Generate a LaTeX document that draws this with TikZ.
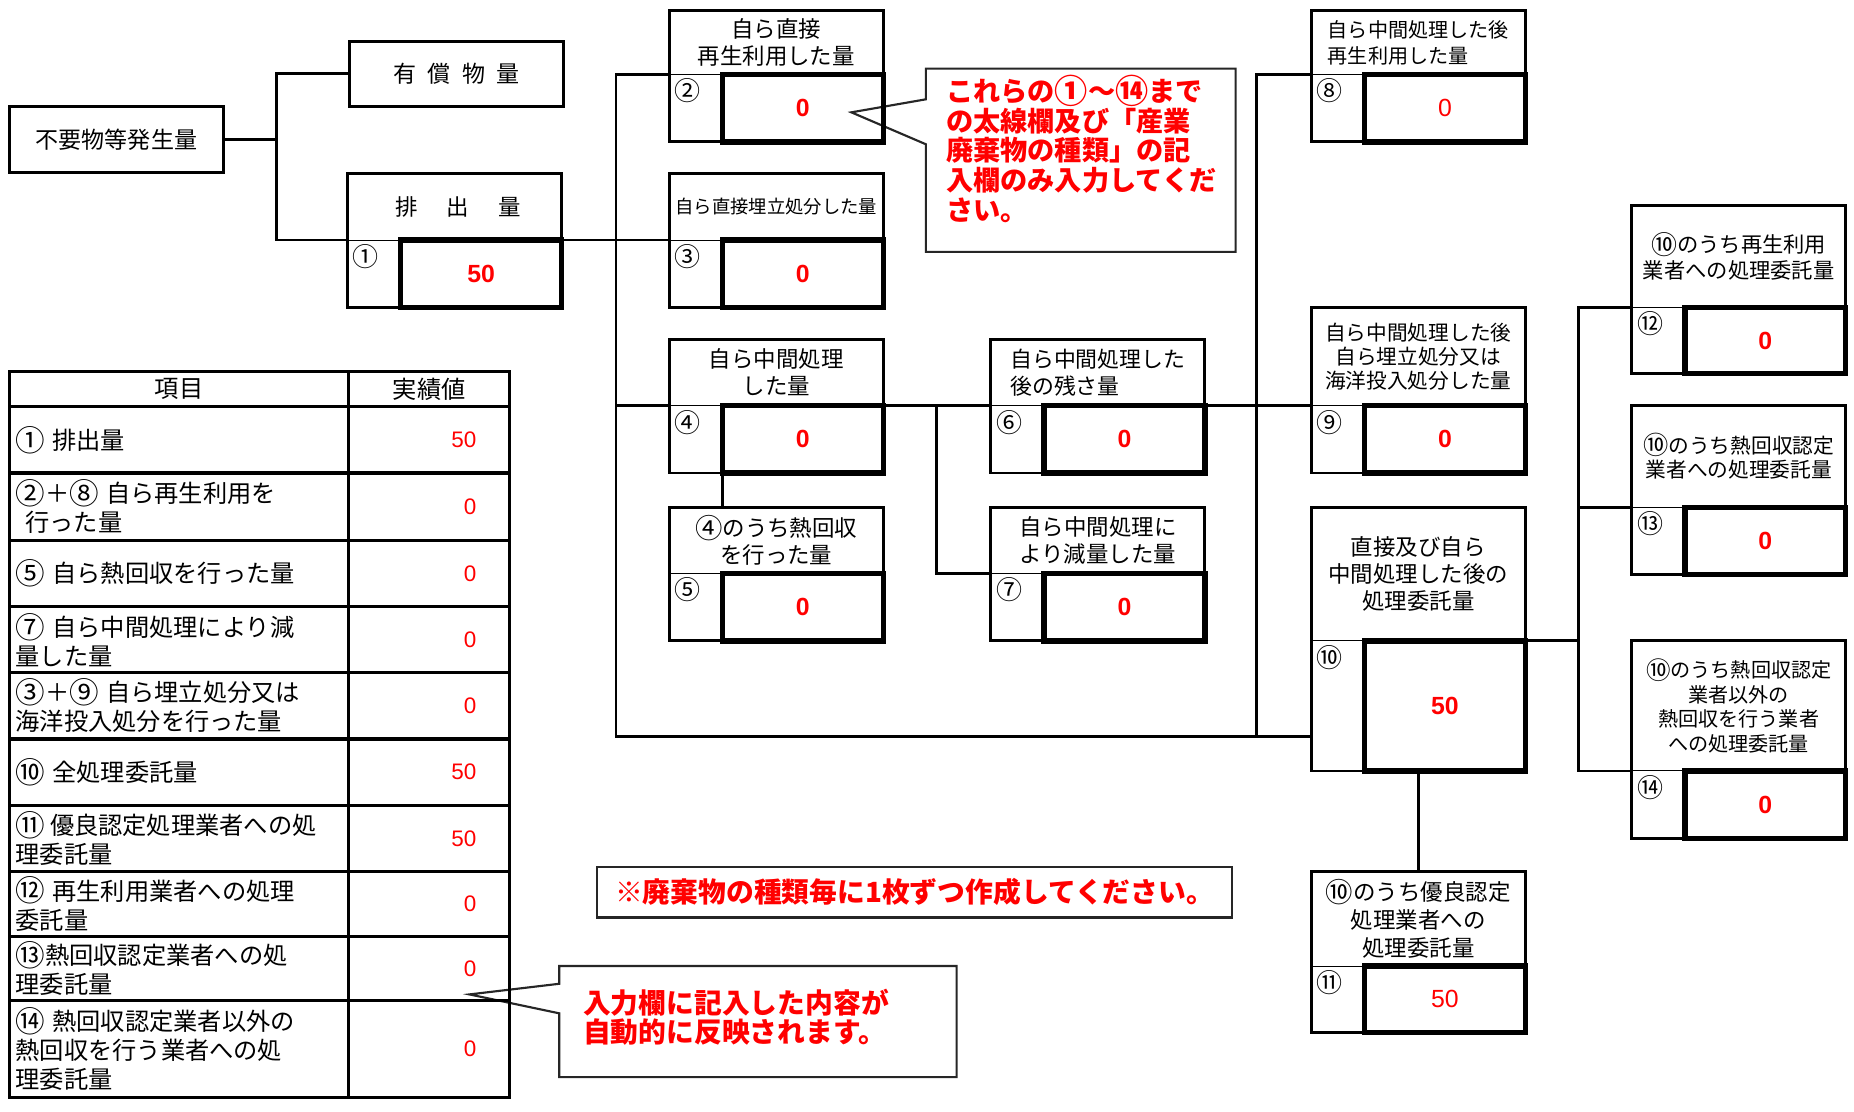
\documentclass[tikz,border=0pt]{standalone}
\usepackage{fontspec}
\usepackage{graphicx}
\setmainfont{Noto Sans CJK JP}
\newfontfamily\numf{Liberation Sans}
\usetikzlibrary{calc}
\newcommand\cc[1]{\raisebox{-0.08em}{\scalebox{1.22}{#1}}}
\newcommand\entrybox[9]{%
  \node[hdr,#7,minimum height={(#4-#3)*1pt}] (#1h) at ({#2+90.5},{(#3+#4)/2}) {#8};
  \draw[boxline] (#1h.south west) -- (#1h.north west) -- (#1h.north east) -- (#1h.south east);
  \node[numcell,minimum height={(#5-#4)*1pt}] (#1n) at ({#2+22.5},{(#4+#5)/2}) {};
  \draw[thinline] (#1n.north west) -- (#1n.north east);
  \draw[boxline] (#1n.north west) -- (#1n.south west) -- (#1n.south east);
  \node[numlabel] (#1l) at ({#2+15.5},{#4+14}) {#6};
  \node[valbox,minimum height={(#5-#4)*1pt}] (#1v) at ({#2+113},{(#4+#5)/2}) {#9};
}
\tikzset{
  conn/.style={line width=2.4pt},
  boxline/.style={line width=2.4pt},
  thinline/.style={line width=0.9pt},
  hdr/.style={inner sep=0pt, outer sep=0pt, minimum width=181pt, align=center, font=\fontsize{19}{23}\selectfont},
  numcell/.style={inner sep=0pt, outer sep=0pt, minimum width=45pt},
  numlabel/.style={inner sep=0pt, font=\fontsize{22}{22}\selectfont},
  valbox/.style={draw, line width=4.5pt, inner sep=0pt, outer sep=0pt, minimum width=136pt, text=red, font=\numf\bfseries\fontsize{21}{21}\selectfont},
  plainbox/.style={draw, line width=2.4pt, inner sep=0pt, outer sep=0pt, font=\fontsize{19.5}{23}\selectfont},
  tabline/.style={line width=2.6pt},
  tabtext/.style={anchor=west, align=left, inner sep=0pt, font=\fontsize{20.5}{24.5}\selectfont},
  tabhead/.style={inner sep=0pt, font=\fontsize{20.5}{24.5}\selectfont},
  tabval/.style={anchor=east, inner sep=0pt, text=red, font=\numf\fontsize{19}{19}\selectfont},
  callout/.style={draw=black!85, line width=1.8pt, fill=white, line join=miter},
  calloutbox/.style={inner sep=0pt, outer sep=0pt},
  redbold/.style={text=red, font=\bfseries\fontsize{23}{25}\selectfont, align=left, inner sep=0pt},
  notebox/.style={draw=black!85, line width=1.8pt, inner sep=0pt, text=red, font=\bfseries\fontsize{23.5}{23.5}\selectfont},
}
\begin{document}
\begin{tikzpicture}[x=1pt,y=-1pt]
\useasboundingbox (0,0) rectangle (1568,940);

% callouts (drawn first)
\node[calloutbox, minimum width=262pt, minimum height=155pt] (c1) at (914,135.5) {};
\coordinate (c1tip) at (720,95);
\draw[callout] (c1.north west) -- (c1.north east) -- (c1.south east) -- (c1.south west)
  -- ($(c1.north west)+(0,64)$) -- (c1tip) -- ($(c1.north west)+(0,26)$) -- cycle;
\node[redbold, anchor=west] (c1t) at (800,126) {これらの\cc{①}～\cc{⑭}まで\\の太線欄及び「産業\\廃棄物の種類」の記\\入欄のみ入力してくだ\\さい。};

\node[calloutbox, minimum width=336pt, minimum height=94pt] (c2) at (641,864) {};
\coordinate (c2tip) at (397,841);
\draw[callout] (c2.north west) -- (c2.north east) -- (c2.south east) -- (c2.south west)
  -- ($(c2.north west)+(0,40)$) -- (c2tip) -- ($(c2.north west)+(0,15)$) -- cycle;
\node[redbold, anchor=west, font=\bfseries\fontsize{23.5}{25}\selectfont] (c2t) at (493,860.5) {入力欄に記入した内容が\\自動的に反映されます。};

\node[notebox, minimum width=537pt, minimum height=43pt] (note) at (773.5,754.5) {※廃棄物の種類毎に1枚ずつ作成してください。};

% left boxes
\node[plainbox, minimum width=181pt, minimum height=56pt] (fuyo) at (98.5,118) {不要物等発生量};
\node[plainbox, minimum width=181pt, minimum height=55pt] (yusho) at (386,62.5) {有\hspace{0.5em}償\hspace{0.5em}物\hspace{0.5em}量};

% entry boxes
\entrybox{e1}{294}{147}{203}{260}{①}{}{\hspace{6pt}排\hspace{1.3em}出\hspace{1.3em}量}{50}
\entrybox{e2}{566}{9}{63}{120}{②}{}{自ら直接\\再生利用した量}{0}
\entrybox{e3}{566}{147}{203}{260}{③}{font=\fontsize{15.5}{18}\selectfont}{自ら直接埋立処分した量}{0}
\entrybox{e4}{566}{287}{343}{400}{④}{}{自ら中間処理\\した量}{0}
\entrybox{e5}{566}{429}{485}{542}{⑤}{}{\cc{④}のうち熱回収\\を行った量}{0}
\entrybox{e6}{838}{287}{343}{400}{⑥}{align=left,font=\fontsize{18.5}{23}\selectfont}{自ら中間処理した\\後の残さ量}{0}
\entrybox{e7}{838}{429}{485}{542}{⑦}{}{自ら中間処理に\\より減量した量}{0}
\entrybox{e8}{1109}{9}{63}{120}{⑧}{align=left,font=\fontsize{17}{22}\selectfont}{自ら中間処理した後\\再生利用した量}{\mdseries 0}
\entrybox{e9}{1109}{260}{343}{400}{⑨}{font=\fontsize{17.5}{20.5}\selectfont}{自ら中間処理した後\\自ら埋立処分又は\\海洋投入処分した量}{0}
\entrybox{e10}{1109}{429}{542}{652}{⑩}{font=\fontsize{19}{23}\selectfont}{直接及び自ら\\中間処理した後の\\処理委託量}{50}
\entrybox{e11}{1109}{737}{817}{873}{⑪}{font=\fontsize{19}{23.5}\selectfont}{\cc{⑩}のうち優良認定\\処理業者への\\処理委託量}{\mdseries 50}
\entrybox{e12}{1380}{174}{260}{316}{⑫}{font=\fontsize{18}{22}\selectfont}{\cc{⑩}のうち再生利用\\業者への処理委託量}{0}
\entrybox{e13}{1380}{343}{429}{486}{⑬}{font=\fontsize{17.5}{21}\selectfont}{\cc{⑩}のうち熱回収認定\\業者への処理委託量}{0}
\entrybox{e14}{1380}{542}{652}{709}{⑭}{font=\fontsize{17}{20.7}\selectfont}{\cc{⑩}のうち熱回収認定\\業者以外の\\熱回収を行う業者\\への処理委託量}{0}

% connectors
\coordinate (t1) at (234,0);
\coordinate (t2) at (521,0);
\coordinate (t3) at (792,0);
\coordinate (t4) at (1063,0);
\coordinate (t5) at (1335,0);
\coordinate (b10) at ([yshift=-26pt]e10n.west);
\draw[conn] (fuyo.east) -- (fuyo.east -| t1);
\draw[conn] (yusho.west) -| (t1 |- e1h.south west) -- (e1h.south west);
\draw[conn] (e1h.south east) -- (e3h.south west);
\draw[conn] (e2h.south west) -| (t2 |- b10) -- (b10);
\draw[conn] (t2 |- e4h.south west) -- (e4h.south west);
\draw[conn] (e4h.south east) -- (e6h.south west);
\draw[conn] (t3 |- e6h.south west) |- (e7h.south west);
\draw[conn] (e6h.south east) -- (e9h.south west);
\draw[conn] (e8h.south west) -| (t4 |- b10);
\draw[conn] (e4v.south west) -- (e4v.south west |- e5h.north);
\draw[conn] (e10h.south east) -- (t5 |- e10h.south east);
\draw[conn] (e12h.south west) -| (t5 |- e14h.south west) -- (e14h.south west);
\draw[conn] (t5 |- e13h.south west) -- (e13h.south west);
\draw[conn] (e10v.south -| e11h.north) -- (e11h.north);

% table
\draw[tabline] (8,314) rectangle (431,928);
\draw[tabline] (295,314) -- (295,928);
\foreach \yy in {344,400,457,513,569,625,681,737,792,846}
  \draw[tabline] (8,\yy) -- (431,\yy);
\node[tabhead] (th1) at (151.5,329) {項目};
\node[tabhead] (th2) at (363,329) {実績値};
\node[tabtext] (r1) at (13,372) {\cc{①}\hspace{0.3em}排出量};
\node[tabtext] (r2) at (13,428.5) {\cc{②}＋\cc{⑧}\hspace{0.3em}自ら再生利用を\\\hspace{0.4em}行った量};
\node[tabtext] (r3) at (13,485) {\cc{⑤}\hspace{0.3em}自ら熱回収を行った量};
\node[tabtext] (r4) at (13,541) {\cc{⑦}\hspace{0.3em}自ら中間処理により減\\量した量};
\node[tabtext] (r5) at (13,597) {\cc{③}＋\cc{⑨}\hspace{0.3em}自ら埋立処分又は\\海洋投入処分を行った量};
\node[tabtext] (r6) at (13,653) {\cc{⑩}\hspace{0.3em}全処理委託量};
\node[tabtext] (r7) at (13,709) {\cc{⑪}\hspace{0.2em}優良認定処理業者への処\\理委託量};
\node[tabtext] (r8) at (13,764.5) {\cc{⑫}\hspace{0.3em}再生利用業者への処理\\委託量};
\node[tabtext] (r9) at (13,819) {\cc{⑬}熱回収認定業者への処\\理委託量};
\node[tabtext] (r10) at (13,887) {\cc{⑭}\hspace{0.3em}熱回収認定業者以外の\\熱回収を行う業者への処\\理委託量};
\node[tabval] (w1) at (403,372) {50};
\node[tabval] (w2) at (403,428.5) {0};
\node[tabval] (w3) at (403,485) {0};
\node[tabval] (w4) at (403,541) {0};
\node[tabval] (w5) at (403,597) {0};
\node[tabval] (w6) at (403,653) {50};
\node[tabval] (w7) at (403,709) {50};
\node[tabval] (w8) at (403,764.5) {0};
\node[tabval] (w9) at (403,819) {0};
\node[tabval] (w10) at (403,887) {0};
\end{tikzpicture}
\end{document}
